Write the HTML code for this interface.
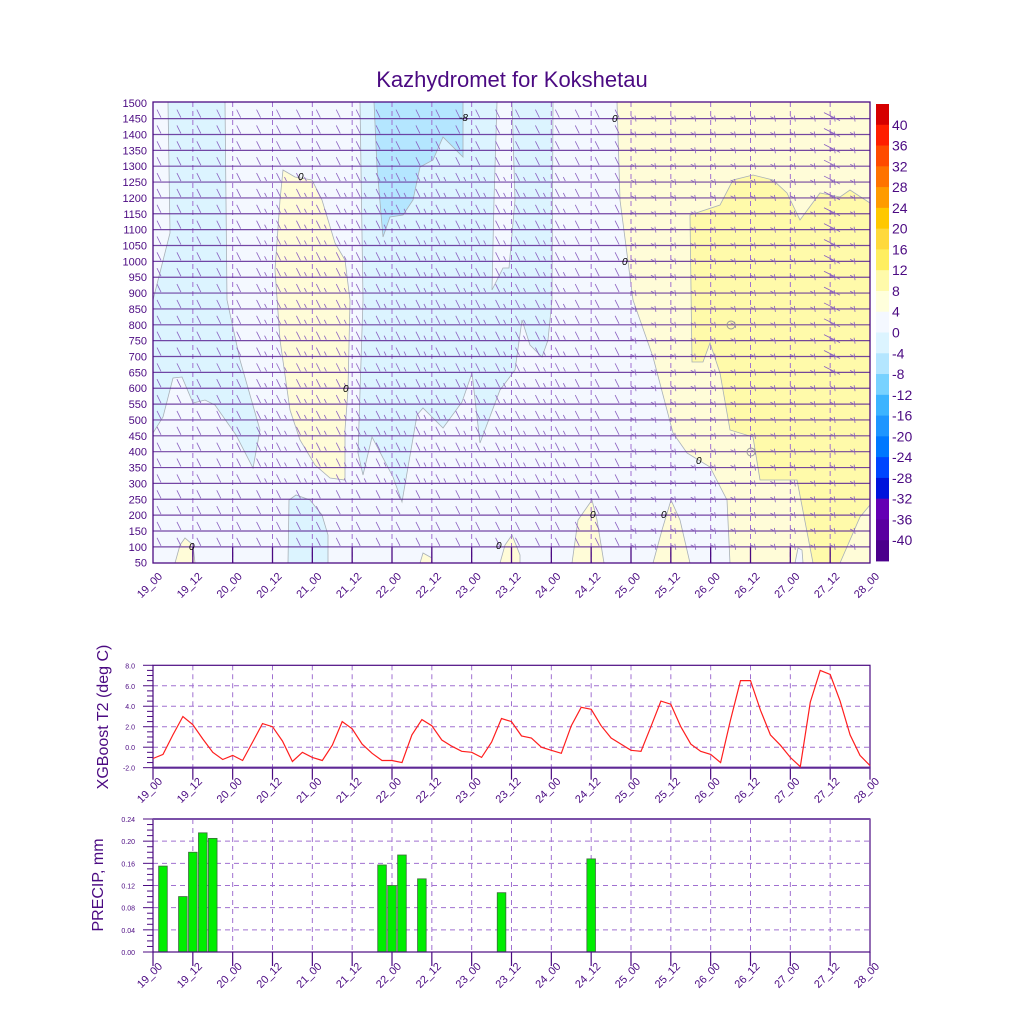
<!DOCTYPE html>
<html><head><meta charset="utf-8"><style>
html,body{margin:0;padding:0;background:#fff;}
svg{display:block;font-family:"Liberation Sans",sans-serif;}
</style></head><body>
<svg id="s" width="1024" height="1024" viewBox="0 0 1024 1024" xmlns="http://www.w3.org/2000/svg">
<rect width="1024" height="1024" fill="#fff"/>
<text x="512" y="87" text-anchor="middle" font-size="22" fill="#4b0a82">Kazhydromet for Kokshetau</text>
<rect x="153" y="102" width="717" height="461" fill="#f4f8ff"/>
<g stroke="#a8b0b8" stroke-width="0.8">
<polygon fill="#dcf4ff" points="168,102 225,102 227,300 240,360 260,430 253,468 236,435 215,405 205,400 193,403 182,377 173,378 163,417 153,433 153,300 170,233"/>
<polygon fill="#dcf4ff" points="288,563 289,500 296,495 310,500 322,515 328,535 328,563"/>
<polygon fill="#dcf4ff" points="360,102 553,102 552,300 548,340 542,357 530,345 522,320 515,370 500,390 480,443 472,373 462,402 443,428 423,408 417,415 402,502 393,477 372,437 363,475 358,453 363,300"/>
<polygon fill="#f4f8ff" points="497,102 512,102 515,200 509,268 503,268 492,290 494,200"/>
<polygon fill="#b4e6ff" points="374,102 463,102 463,157 443,137 433,160 420,167 413,200 403,215 390,217 383,237 377,167"/>
<polygon fill="#fffcd8" points="283,170 295,177 312,180 322,200 335,243 345,260 350,300 348,390 345,430 345,480 330,478 315,465 300,440 290,410 280,340 275,270 280,200"/>
<polygon fill="#fffcd8" points="175,563 180,545 185,538 193,545 195,563"/>
<polygon fill="#fffcd8" points="420,563 423,553 432,558 432,563"/>
<polygon fill="#fffcd8" points="500,563 505,545 512,535 520,555 520,563"/>
<polygon fill="#fffcd8" points="572,563 578,520 592,500 597,520 604,563"/>
<polygon fill="#fffcd8" points="653,563 662,530 671,500 680,520 690,563"/>
<polygon fill="#fffcd8" points="617,102 870,102 870,563 730,563 727,500 710,467 687,453 673,433 653,357 633,300 620,200"/>
<polygon fill="#fffaaa" points="690,215 720,205 733,180 753,175 773,180 787,193 800,220 820,193 840,197 850,190 870,203 870,505 860,517 840,563 813,563 797,480 760,480 753,437 730,430 720,373 710,343 703,362 692,362"/>
<polygon fill="#f4f8ff" points="795,563 798,548 802,550 803,563"/>
</g>
<g id="grid"></g>
<g id="barbs"></g>
<g font-size="10" fill="#000" font-style="italic">
<text x="298" y="180">0</text><text x="343" y="392">0</text><text x="189" y="550">0</text>
<text x="496" y="549">0</text><text x="459" y="121">-8</text><text x="612" y="122">0</text>
<text x="622" y="265">0</text><text x="696" y="464">0</text><text x="590" y="518">0</text><text x="661" y="518">0</text>
</g>
<circle cx="731" cy="325" r="4" fill="none" stroke="#999"/>
<circle cx="751" cy="452" r="4" fill="none" stroke="#999"/>
<rect x="153" y="102" width="717" height="461" fill="none" stroke="#4b0a82" stroke-width="1.3"/>
<g id="cbar"></g>
<g id="ylab1" font-size="11" fill="#4b0a82" text-anchor="end"></g>
<g id="xl" font-size="11" fill="#4b0a82"></g>
<g id="mid"></g>
<text transform="translate(108,717) rotate(-90)" text-anchor="middle" font-size="16" fill="#4b0a82">XGBoost T2 (deg C)</text>
<text transform="translate(103,885) rotate(-90)" text-anchor="middle" font-size="16" fill="#4b0a82">PRECIP, mm</text>
</svg>
<script>
var NS="http://www.w3.org/2000/svg";
function el(p,t,a,txt){var e=document.createElementNS(NS,t);for(var k in a)e.setAttribute(k,a[k]);if(txt!=null)e.textContent=txt;document.getElementById(p).appendChild(e);return e;}
var X0=153,X1=870,dx=(X1-X0)/18;
function ly(p){return 562.7-(p-50)/50*15.86;}
for(var i=1;i<18;i++){var x=X0+i*dx;el('grid','line',{x1:x,y1:102,x2:x,y2:563,stroke:'#a070d0','stroke-width':1,'stroke-dasharray':'5,4'});
el('grid','line',{x1:x,y1:547,x2:x,y2:563,stroke:'#4b0a82','stroke-width':1.3});}
var fc='#8a60c0';
for(var p=100;p<=1450;p+=50){var y=ly(p);el('barbs','line',{x1:X0,y1:y,x2:X1,y2:y,stroke:'#5e2896','stroke-width':1.2,opacity:0.85});
for(var j=0;j<36;j++){var x=157+j*dx/2;
if(x<617){el('barbs','line',{x1:x,y1:y-9,x2:x+4,y2:y-1,stroke:fc,'stroke-width':0.8});
if(p>250&&p<1300&&x>240&&x<560)el('barbs','line',{x1:x+8,y1:y-5,x2:x+10,y2:y-1,stroke:fc,'stroke-width':0.8});}
else{el('barbs','line',{x1:x,y1:y-3,x2:x+1,y2:y+3,stroke:fc,'stroke-width':0.8});el('barbs','line',{x1:x-4,y1:y-2,x2:x,y2:y,stroke:fc,'stroke-width':0.8});}
}}
for(var p=650;p<=1450;p+=50){var y=ly(p);el('barbs','line',{x1:824,y1:y-6,x2:840,y2:y+2,stroke:fc,'stroke-width':0.8});}
var cols=['#d60000','#ff1e00','#ff4b00','#ff7300','#ff9b00','#ffc800','#ffd93c','#ffee60','#fffaaa','#ffffdc','#f4f8ff','#dcf4ff','#b4e6ff','#78d2ff','#3cb4ff','#1e96ff','#0078ff','#0046ff','#0014dc','#6400b4','#5a00a0','#4b008c'];
var lbl=['40','36','32','28','24','20','16','12','8','4','0','-4','-8','-12','-16','-20','-24','-28','-32','-36','-40'];
var bh=(561-104)/22;
for(var k=0;k<22;k++)el('cbar','rect',{x:876,y:104+k*bh,width:13,height:bh+0.4,fill:cols[k]});
for(var k=0;k<21;k++)el('cbar','text',{x:892,y:104+(k+1)*bh+5,'font-size':14,fill:'#4b0a82'},lbl[k]);
for(var p=50;p<=1500;p+=50)el('ylab1','text',{x:147,y:ly(p)+4},String(p));
var days=['19','20','21','22','23','24','25','26','27','28'];
function xlabels(y0){for(var i=0;i<=18;i++){var x=X0+i*dx;var t=days[Math.floor(i/2)]+'_'+(i%2?'12':'00');
el('xl','text',{transform:'translate('+(x+10)+','+y0+') rotate(-45)','text-anchor':'end'},t);}}
xlabels(577);xlabels(782);xlabels(967);
var MY0=665.3,MY1=767.7;function ty(v){return 747.2-v*10.24;}
for(var v=0;v<=6;v+=2)el('mid','line',{x1:X0,y1:ty(v),x2:X1,y2:ty(v),stroke:'#a070d0','stroke-dasharray':'5,4'});
for(var i=1;i<18;i++){var x=X0+i*dx;el('mid','line',{x1:x,y1:MY0,x2:x,y2:MY1,stroke:'#a070d0','stroke-dasharray':'5,4'});}
for(var i=0;i<=18;i++){var x=X0+i*dx;el('mid','line',{x1:x,y1:MY1,x2:x,y2:MY1+12,stroke:'#4b0a82','stroke-width':1.2});el('mid','line',{x1:x,y1:952,x2:x,y2:966,stroke:'#4b0a82','stroke-width':1.2});}
for(var v=-2;v<=8;v+=0.5){var y=ty(v);var maj=(Math.abs(v%2)<0.01);el('mid','line',{x1:maj?143:147,y1:y,x2:X0,y2:y,stroke:'#4b0a82','stroke-width':1});
if(maj)el('mid','text',{x:135,y:y+3,'font-size':7,fill:'#4b0a82','text-anchor':'end'},v.toFixed(1));}
el('mid','rect',{x:X0,y:MY0,width:X1-X0,height:MY1-MY0,fill:'none',stroke:'#4b0a82','stroke-width':1.2});
el('mid','line',{x1:X0,y1:MY1,x2:X1,y2:MY1,stroke:'#5e2896','stroke-width':2.2});
var T=[-1.1,-0.7,1.2,3.0,2.2,0.8,-0.5,-1.2,-0.8,-1.3,0.5,2.3,2.0,0.6,-1.4,-0.5,-1.0,-1.3,0.2,2.5,1.8,0.3,-0.6,-1.3,-1.3,-1.5,1.2,2.7,2.1,0.7,0.1,-0.4,-0.5,-1.0,0.5,2.8,2.5,1.1,0.9,0.0,-0.3,-0.6,2.1,3.9,3.7,2.1,0.9,0.3,-0.3,-0.4,2.0,4.5,4.2,2.0,0.3,-0.4,-0.7,-1.5,2.7,6.5,6.5,3.6,1.2,0.2,-1.0,-1.9,4.4,7.5,7.1,4.5,1.2,-0.8,-1.8];
var pts=T.map(function(v,i){return (X0+i*dx/4).toFixed(1)+','+ty(v).toFixed(1);}).join(' ');
el('mid','polyline',{points:pts,fill:'none',stroke:'#ff1e1e','stroke-width':1.2});
var BY0=819,BY1=952;function py(v){return BY1-v*554.2;}
for(var v=0.04;v<0.23;v+=0.04)el('mid','line',{x1:X0,y1:py(v),x2:X1,y2:py(v),stroke:'#a070d0','stroke-dasharray':'5,4'});
for(var i=1;i<18;i++){var x=X0+i*dx;el('mid','line',{x1:x,y1:BY0,x2:x,y2:BY1,stroke:'#a070d0','stroke-dasharray':'5,4'});}
for(var k=0;k<=24;k++){var v=k*0.01,y=py(v),maj=(k%4==0);el('mid','line',{x1:maj?143:147,y1:y,x2:X0,y2:y,stroke:'#4b0a82','stroke-width':1});
if(maj)el('mid','text',{x:135,y:y+3,'font-size':7,fill:'#4b0a82','text-anchor':'end'},v.toFixed(2));}
var B=[[1,0.155],[3,0.10],[4,0.18],[5,0.215],[6,0.205],[23,0.157],[24,0.12],[25,0.175],[27,0.132],[35,0.107],[44,0.168]];
B.forEach(function(b){var x=X0+b[0]*dx/4;el('mid','rect',{x:x-4.3,y:py(b[1]),width:8.6,height:BY1-py(b[1]),fill:'#00ee00',stroke:'#3a6a3a','stroke-width':0.8});});
el('mid','rect',{x:X0,y:BY0,width:X1-X0,height:BY1-BY0,fill:'none',stroke:'#4b0a82','stroke-width':1.2});
el('mid','line',{x1:X0,y1:BY0,x2:X1,y2:BY0,stroke:'#7a50a8','stroke-width':2});
</script>
</body></html>
